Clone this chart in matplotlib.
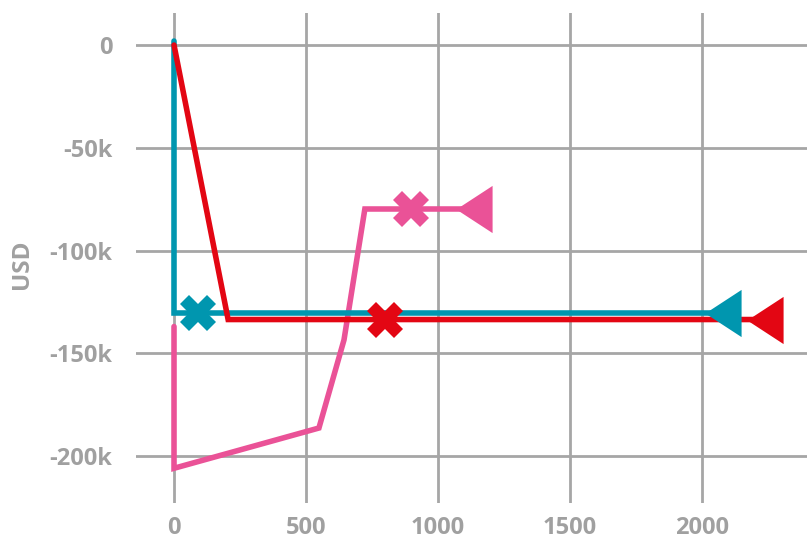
#!/usr/bin/env python3
"""Cumulative cash position per scenario (USD) with mean and end markers."""

import matplotlib
matplotlib.use("Agg")
import matplotlib.pyplot as plt
from matplotlib.ticker import FuncFormatter

# series: path points
teal_x = [0, 0, 2079]
teal_y = [2000, -130300, -130300]
red_x = [0, 205, 2238]
red_y = [0, -133600, -133600]
pink_x = [0, 0, 549, 644, 723, 1138]
pink_y = [-137000, -206000, -186400, -143500, -79800, -79800]

# "X" marker points
teal_mark = (91, -130300)
red_mark = (799, -133600)
pink_mark = (898, -79800)

x_ticks = [0, 500, 1000, 1500, 2000]
y_ticks = [0, -50000, -100000, -150000, -200000]

TEAL = "#0096AF"
RED = "#E30613"
PINK = "#EA5297"
GRID = "#a6a6a6"
TEXT = "#a0a0a0"

plt.rcParams["font.family"] = ["Open Sans", "DejaVu Sans"]

W, H = 807, 560
fig = plt.figure(figsize=(W / 100, H / 100), dpi=100)
ax = fig.add_axes([136 / W, (H - 503) / H, (W - 136) / W, 490 / H])

# open triangle pointing left, taller than wide
tri = [(-0.766, 0), (0.766, -1), (0.766, 1)]

for xs, ys, mk, color in [
    (pink_x, pink_y, pink_mark, PINK),
    (teal_x, teal_y, teal_mark, TEAL),
    (red_x, red_y, red_mark, RED),
]:
    ax.plot(xs, ys, color=color, lw=4, solid_capstyle="round",
            solid_joinstyle="miter", zorder=3)
    ax.plot(xs[-1], ys[-1], marker=tri, ms=34, color=color, mew=0, zorder=4)
    ax.plot(mk[0], mk[1], marker="X", ms=26, color=color, mew=0, zorder=4)

ax.set_xlim(-144, 2398)
ax.set_ylim(-222900, 15600)
ax.set_xticks(x_ticks)
ax.set_yticks(y_ticks)
ax.yaxis.set_major_formatter(FuncFormatter(lambda v, _: "0" if v == 0 else f"{int(v / 1000)}k"))

ax.grid(True, color=GRID, lw=2)
ax.set_axisbelow(True)
for s in ax.spines.values():
    s.set_visible(False)
ax.tick_params(length=0, labelsize=17, labelcolor=TEXT)
ax.tick_params(axis="y", pad=17)
ax.tick_params(axis="x", pad=9)
for lab in ax.get_xticklabels() + ax.get_yticklabels():
    lab.set_fontweight("bold")

fig.text(22 / W, 1 - 264 / H, "USD", rotation=90, ha="center", va="center",
         fontsize=17.5, fontweight="bold", color=TEXT)

fig.savefig("out.png", dpi=100)
plt.close(fig)
